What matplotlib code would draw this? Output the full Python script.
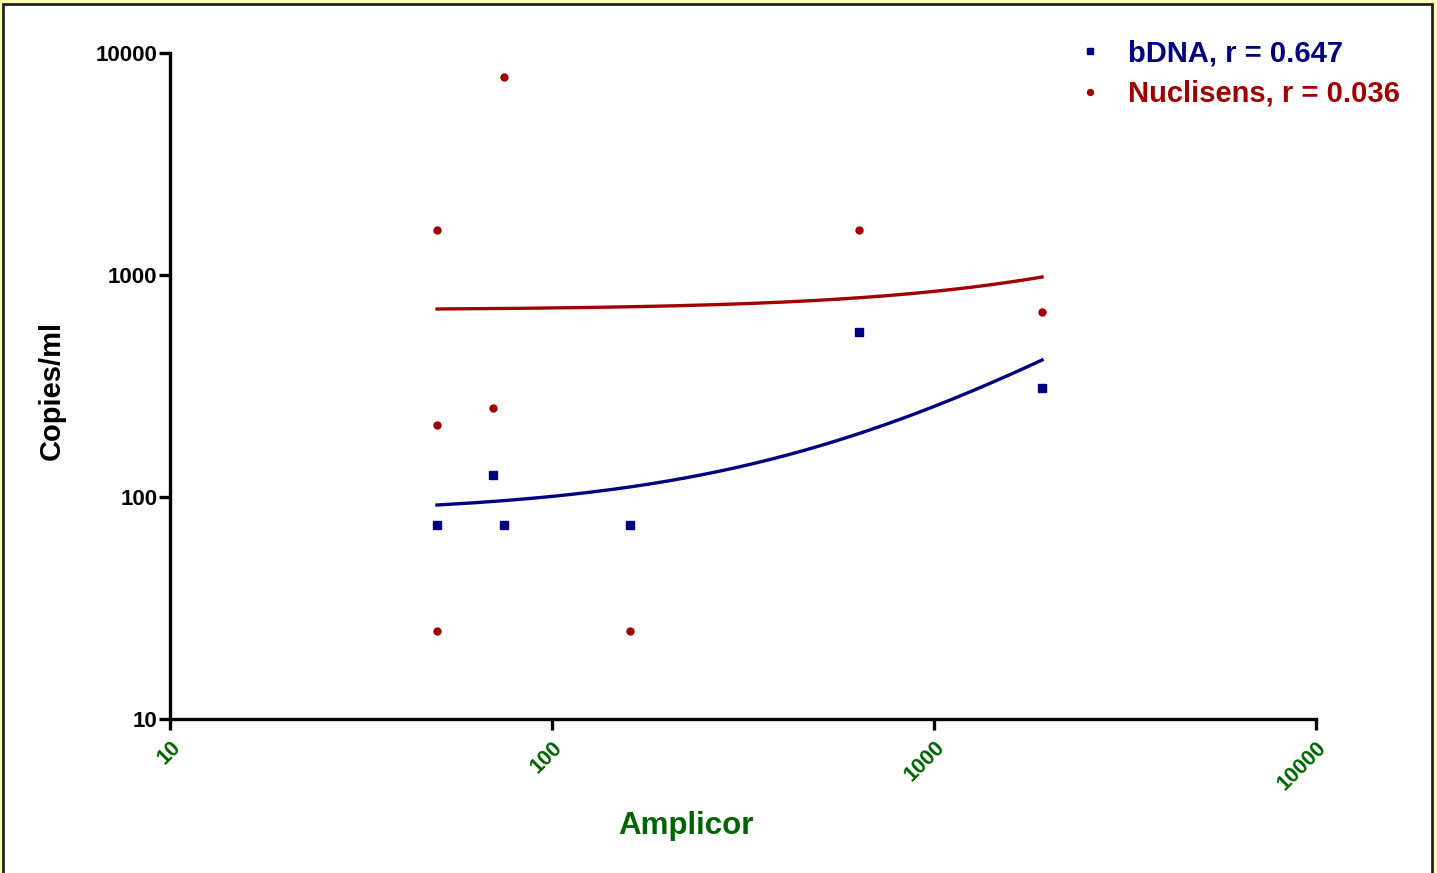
import numpy as np
import matplotlib
matplotlib.use('Agg')
import matplotlib.pyplot as plt
from matplotlib.patches import Rectangle

# Valores (escala log-log)
bdna_x = [50, 70, 75, 160, 637, 1918]
bdna_y = [75, 125, 75, 75, 553, 310]
nucli_x = [50, 50, 50, 70, 75, 160, 637, 1918]
nucli_y = [1600, 211, 25, 252, 7800, 25, 1600, 681]

# Retas de regressão (espaço linear): intercepto, inclinação
bdna_fit = (83.4, 0.1724)
nucli_fit = (695.6, 0.148)

bdna_label = 'bDNA, r = 0.647'
nucli_label = 'Nuclisens, r = 0.036'
tick_vals = [10, 100, 1000, 10000]
tick_labels = ['10', '100', '1000', '10000']

plt.rcParams['font.family'] = ['Liberation Sans', 'DejaVu Sans']
plt.rcParams['font.weight'] = 'bold'

blue = '#000080'
red = '#A00000'
green = '#006400'

fig = plt.figure(figsize=(14.37, 8.73), dpi=100, facecolor='#FFFFB3')
# moldura branca com borda escura (atrás dos eixos)
fig.add_artist(Rectangle((3 / 1437, -0.01), 1429 / 1437, 1 - 4 / 873 + 0.01,
                         transform=fig.transFigure, facecolor='white',
                         edgecolor='#222222', linewidth=2, zorder=-10))

ax = fig.add_axes([170 / 1437, 1 - 719 / 873, 1146 / 1437, 666 / 873])
ax.set_facecolor('none')

ax.plot(bdna_x, bdna_y, 's', color=blue, markersize=5.5, linestyle='none',
        label=bdna_label, clip_on=False)
ax.plot(nucli_x, nucli_y, 'o', color=red, markersize=5, linestyle='none',
        label=nucli_label, clip_on=False)

xs = np.linspace(min(bdna_x), max(bdna_x), 300)
ax.plot(xs, bdna_fit[0] + bdna_fit[1] * xs, color=blue, linewidth=2.4)
xs = np.linspace(min(nucli_x), max(nucli_x), 300)
ax.plot(xs, nucli_fit[0] + nucli_fit[1] * xs, color=red, linewidth=2.4)

ax.set_xscale('log')
ax.set_yscale('log')
ax.set_xlim(10, 10000)
ax.set_ylim(10, 10000)
ax.minorticks_off()
ax.set_xticks(tick_vals)
ax.set_xticklabels(tick_labels)
ax.set_yticks(tick_vals)
ax.set_yticklabels(tick_labels)

for side in ['top', 'right']:
    ax.spines[side].set_visible(False)
for side in ['left', 'bottom']:
    ax.spines[side].set_linewidth(2.4)
ax.tick_params(axis='both', which='major', length=8, width=2.4, direction='out')
ax.tick_params(axis='y', labelsize=16, pad=1)
ax.tick_params(axis='x', labelsize=15.5, labelcolor=green, pad=5)
for lbl in ax.get_xticklabels():
    lbl.set_rotation(45)
    lbl.set_ha('right')
    lbl.set_va('top')
    lbl.set_rotation_mode('anchor')
    lbl.set_fontweight('bold')
for lbl in ax.get_yticklabels():
    lbl.set_fontweight('bold')

ax.set_xlabel('Amplicor', fontsize=22.5, fontweight='bold', color=green, va='center')
ax.xaxis.set_label_coords((686 - 170) / 1146, -(826 - 719) / 666)
ax.set_ylabel('Copies/ml', fontsize=21, fontweight='bold', color='black', va='center')
ax.yaxis.set_label_coords((52 - 170) / 1146, (719 - 390) / 666)

leg = ax.legend(loc='upper left', bbox_to_anchor=(1064 / 1437, 1 - 25 / 873),
                bbox_transform=fig.transFigure, frameon=False,
                prop={'size': 21, 'weight': 'bold'}, handlelength=0.8,
                handletextpad=0.9, borderpad=0, labelspacing=0.42, markerscale=0.85)
for txt, col in zip(leg.get_texts(), [blue, red]):
    txt.set_color(col)

fig.savefig('out.png', dpi=100, facecolor=fig.get_facecolor())
